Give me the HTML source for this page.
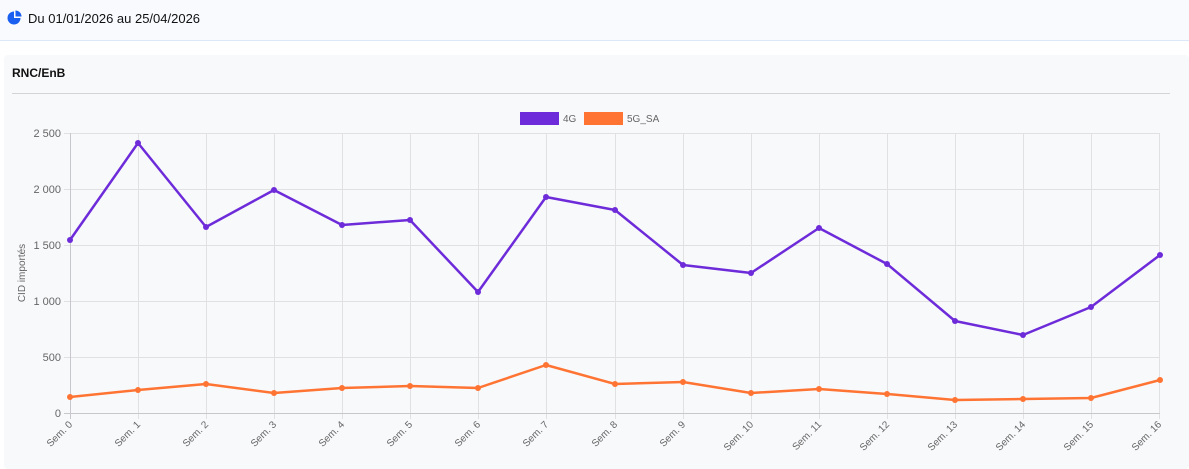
<!DOCTYPE html>
<html><head><meta charset="utf-8"><style>
body{margin:0;width:1189px;height:469px;background:#fff;font-family:"Liberation Sans",sans-serif;overflow:hidden;position:relative}
.top{position:absolute;left:0;top:0;width:1189px;height:40px;background:#f8fafe;border-bottom:1px solid #dce8f8}
.top span{position:absolute;left:28px;top:11px;font-size:13px;color:#111}
.card{position:absolute;left:4px;top:55px;width:1185px;height:414px;background:#f8f9fb;border-radius:4px}
.title{position:absolute;left:12px;top:66px;font-size:12px;font-weight:bold;color:#111}
.hr{position:absolute;left:12px;top:93px;width:1158px;height:1px;background:#d4d4d8}
svg{position:absolute;left:0;top:0}
</style></head><body>
<div class="top"><svg width="20" height="20" style="left:6px;top:10px" viewBox="0 0 20 20"><circle cx="8" cy="8" r="6.5" fill="#1a5ff0"/><path d="M8 8 L8 1.5 A6.5 6.5 0 0 1 14.5 8 Z" fill="#fff"/><path d="M9.5 6.5 L9.5 0.5 A6 6 0 0 1 15.5 6.5 Z" fill="#1a5ff0"/></svg><span>Du 01/01/2026 au 25/04/2026</span></div>
<div class="card"></div>
<div class="title">RNC/EnB</div>
<div class="hr"></div>
<svg width="1189" height="469" font-family="Liberation Sans, sans-serif">
<g stroke="#e1e1e4" stroke-width="1">
<line x1="64" x2="1160" y1="133.5" y2="133.5"/><line x1="64" x2="1160" y1="189.5" y2="189.5"/><line x1="64" x2="1160" y1="245.5" y2="245.5"/><line x1="64" x2="1160" y1="301.5" y2="301.5"/><line x1="64" x2="1160" y1="357.5" y2="357.5"/>
<line x1="138.5" x2="138.5" y1="133" y2="419"/><line x1="206.5" x2="206.5" y1="133" y2="419"/><line x1="274.5" x2="274.5" y1="133" y2="419"/><line x1="342.5" x2="342.5" y1="133" y2="419"/><line x1="410.5" x2="410.5" y1="133" y2="419"/><line x1="478.5" x2="478.5" y1="133" y2="419"/><line x1="546.5" x2="546.5" y1="133" y2="419"/><line x1="615.5" x2="615.5" y1="133" y2="419"/><line x1="683.5" x2="683.5" y1="133" y2="419"/><line x1="751.5" x2="751.5" y1="133" y2="419"/><line x1="819.5" x2="819.5" y1="133" y2="419"/><line x1="887.5" x2="887.5" y1="133" y2="419"/><line x1="955.5" x2="955.5" y1="133" y2="419"/><line x1="1023.5" x2="1023.5" y1="133" y2="419"/><line x1="1091.5" x2="1091.5" y1="133" y2="419"/><line x1="1159.5" x2="1159.5" y1="133" y2="419"/>
</g>
<g stroke="#c8c8cc"><line x1="70.5" x2="70.5" y1="133" y2="419"/><line x1="64" x2="1160" y1="413.5" y2="413.5"/></g>
<g font-size="11" fill="#666" text-anchor="end">
<text x="61" y="137">2 500</text><text x="61" y="193">2 000</text><text x="61" y="249">1 500</text><text x="61" y="305">1 000</text><text x="61" y="361">500</text><text x="61" y="417">0</text>
</g>
<text transform="translate(25,273) rotate(-90)" font-size="10" fill="#666" text-anchor="middle">CID importés</text>
<g font-size="10" fill="#666" text-anchor="end">
<text transform="translate(73,425) rotate(-45)">Sem. 0</text><text transform="translate(141,425) rotate(-45)">Sem. 1</text><text transform="translate(209,425) rotate(-45)">Sem. 2</text><text transform="translate(277,425) rotate(-45)">Sem. 3</text><text transform="translate(345,425) rotate(-45)">Sem. 4</text><text transform="translate(413,425) rotate(-45)">Sem. 5</text><text transform="translate(481,425) rotate(-45)">Sem. 6</text><text transform="translate(549,425) rotate(-45)">Sem. 7</text><text transform="translate(618,425) rotate(-45)">Sem. 8</text><text transform="translate(686,425) rotate(-45)">Sem. 9</text><text transform="translate(754,425) rotate(-45)">Sem. 10</text><text transform="translate(822,425) rotate(-45)">Sem. 11</text><text transform="translate(890,425) rotate(-45)">Sem. 12</text><text transform="translate(958,425) rotate(-45)">Sem. 13</text><text transform="translate(1026,425) rotate(-45)">Sem. 14</text><text transform="translate(1094,425) rotate(-45)">Sem. 15</text><text transform="translate(1162,425) rotate(-45)">Sem. 16</text>
</g>
<rect x="520" y="112" width="39" height="13" fill="#6d2bd9"/><text x="563" y="122" font-size="10" fill="#666">4G</text>
<rect x="584" y="112" width="39" height="13" fill="#ff7433"/><text x="627" y="122" font-size="10" fill="#666">5G_SA</text>
<polyline fill="none" stroke="#6d2bd9" stroke-width="2.5" stroke-linejoin="round" points="70,240 138,143 206,227 274,190 342,225 410,220 478,292 546,197 615,210 683,265 751,273 819,228 887,264 955,321 1023,335 1091,307 1160,255"/>
<g fill="#6d2bd9"><circle cx="70" cy="240" r="3"/><circle cx="138" cy="143" r="3"/><circle cx="206" cy="227" r="3"/><circle cx="274" cy="190" r="3"/><circle cx="342" cy="225" r="3"/><circle cx="410" cy="220" r="3"/><circle cx="478" cy="292" r="3"/><circle cx="546" cy="197" r="3"/><circle cx="615" cy="210" r="3"/><circle cx="683" cy="265" r="3"/><circle cx="751" cy="273" r="3"/><circle cx="819" cy="228" r="3"/><circle cx="887" cy="264" r="3"/><circle cx="955" cy="321" r="3"/><circle cx="1023" cy="335" r="3"/><circle cx="1091" cy="307" r="3"/><circle cx="1160" cy="255" r="3"/></g>
<polyline fill="none" stroke="#ff7433" stroke-width="2.5" stroke-linejoin="round" points="70,397 138,390 206,384 274,393 342,388 410,386 478,388 546,365 615,384 683,382 751,393 819,389 887,394 955,400 1023,399 1091,398 1160,380"/>
<g fill="#ff7433"><circle cx="70" cy="397" r="3"/><circle cx="138" cy="390" r="3"/><circle cx="206" cy="384" r="3"/><circle cx="274" cy="393" r="3"/><circle cx="342" cy="388" r="3"/><circle cx="410" cy="386" r="3"/><circle cx="478" cy="388" r="3"/><circle cx="546" cy="365" r="3"/><circle cx="615" cy="384" r="3"/><circle cx="683" cy="382" r="3"/><circle cx="751" cy="393" r="3"/><circle cx="819" cy="389" r="3"/><circle cx="887" cy="394" r="3"/><circle cx="955" cy="400" r="3"/><circle cx="1023" cy="399" r="3"/><circle cx="1091" cy="398" r="3"/><circle cx="1160" cy="380" r="3"/></g>
</svg>
</body></html>
